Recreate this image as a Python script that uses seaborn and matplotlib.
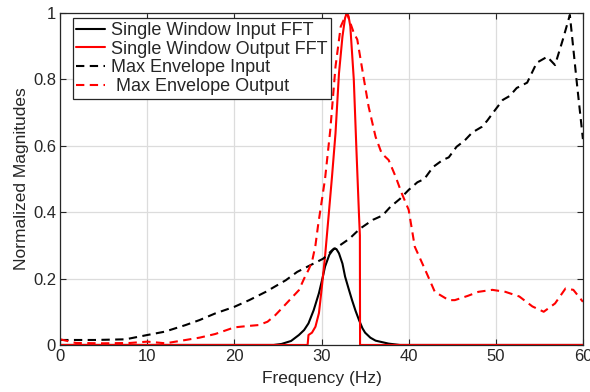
import numpy as np
import pandas as pd
import seaborn as sns
import matplotlib.pyplot as plt

# single window input FFT (black solid)
in_fft_x = [0, 24.5, 25.4, 26.5, 27.4, 28.0, 28.5, 29.1, 29.7, 30.1, 30.4, 30.9, 31.4, 31.7, 32.0, 32.4,
            32.7, 33.1, 33.5, 33.9, 34.3, 34.7, 35.0, 35.6, 36.2, 37.7, 39.0, 60]
in_fft_y = [0, 0, 0.003, 0.012, 0.03, 0.045, 0.065, 0.105, 0.156, 0.2, 0.236, 0.272, 0.29, 0.289, 0.276,
            0.245, 0.206, 0.17, 0.135, 0.103, 0.075, 0.05, 0.037, 0.022, 0.013, 0.004, 0, 0]

# single window output FFT (red solid)
out_fft_x = [0, 28.4, 28.5, 28.9, 29.3, 29.7, 30.0, 30.4, 30.8, 31.2, 31.6, 32.0, 32.4, 32.7, 32.9, 33.1,
             33.3, 33.7, 34.0, 34.3, 34.4, 34.42, 60]
out_fft_y = [0, 0, 0.03, 0.037, 0.055, 0.096, 0.166, 0.266, 0.386, 0.507, 0.637, 0.818, 0.929, 0.985, 1.0,
             0.99, 0.96, 0.8, 0.59, 0.39, 0.33, 0, 0]

# max envelope input (black dashed)
env_in_x = [0, 4, 7.5, 10, 12, 14.4, 16, 17.8, 20, 21.7, 23.6, 25.9, 27.2, 28.7, 30.2, 31.2, 32.1, 33.2,
            34.4, 35.9, 37.0, 37.9, 39.0, 40.0, 41.0, 41.8, 42.8, 43.9, 44.6, 45.5, 46.4, 47.3, 48.4, 49.0,
            49.7, 50.8, 51.6, 52.4, 53.6, 54.7, 55.9, 56.8, 57.7, 58.5, 59.3, 60]
env_in_y = [0.015, 0.015, 0.017, 0.03, 0.04, 0.06, 0.075, 0.095, 0.115, 0.135, 0.16, 0.195, 0.22, 0.24,
            0.26, 0.285, 0.30, 0.32, 0.35, 0.377, 0.39, 0.416, 0.44, 0.467, 0.49, 0.50, 0.536, 0.557, 0.565,
            0.597, 0.615, 0.64, 0.657, 0.675, 0.70, 0.738, 0.75, 0.774, 0.79, 0.85, 0.868, 0.843, 0.92, 0.994,
            0.79, 0.62]

# max envelope output (red dashed)
env_out_x = [0, 1.8, 5, 8, 10, 12.1, 14.4, 16, 17.8, 20, 21.5, 22.8, 23.8, 24.7, 25.5, 26.5, 27.4, 28.0,
             28.5, 28.9, 29.3, 29.6, 30.0, 30.4, 31.0, 31.6, 32.2, 32.9, 33.3, 33.7, 34.1, 34.8, 35.4, 36.2,
             36.9, 37.7, 38.5, 39.2, 40.0, 40.7, 41.9, 43.0, 44.6, 45.3, 46.8, 48.0, 49.6, 51.1, 52.7, 54.2,
             55.5, 56.8, 58.0, 58.9, 60]
env_out_y = [0.017, 0.006, 0.005, 0.006, 0.01, 0.005, 0.015, 0.022, 0.033, 0.053, 0.057, 0.06, 0.07, 0.09,
             0.112, 0.14, 0.165, 0.2, 0.226, 0.25, 0.30, 0.36, 0.43, 0.50, 0.647, 0.838, 0.959, 1.0, 0.97,
             0.94, 0.92, 0.81, 0.718, 0.627, 0.577, 0.557, 0.507, 0.457, 0.407, 0.296, 0.226, 0.16, 0.135,
             0.135, 0.148, 0.16, 0.166, 0.16, 0.146, 0.116, 0.10, 0.125, 0.17, 0.166, 0.13]

labels = ['Single Window Input FFT', 'Single Window Output FFT', 'Max Envelope Input', ' Max Envelope Output']
x_ticks = [0, 10, 20, 30, 40, 50, 60]
y_ticks = [0, 0.2, 0.4, 0.6, 0.8, 1.0]
y_ticklabels = ['0', '0.2', '0.4', '0.6', '0.8', '1']

sns.set_style('whitegrid')
plt.rcParams['font.family'] = ['Liberation Sans', 'DejaVu Sans']

fig = plt.figure(figsize=(5.9, 3.92), dpi=100)
ax = fig.add_axes([0.102, 0.12, 0.886, 0.847])

dash = (0, (4, 2.6))
sns.lineplot(x=in_fft_x, y=in_fft_y, ax=ax, color='black', lw=1.5, sort=False, estimator=None, label=labels[0])
sns.lineplot(x=out_fft_x, y=out_fft_y, ax=ax, color='red', lw=1.5, sort=False, estimator=None, label=labels[1])
sns.lineplot(x=env_in_x, y=env_in_y, ax=ax, color='black', lw=1.5, sort=False, estimator=None,
             linestyle=dash, label=labels[2])
sns.lineplot(x=env_out_x, y=env_out_y, ax=ax, color='red', lw=1.5, sort=False, estimator=None,
             linestyle=dash, label=labels[3])

ax.set_xlim(0, 60)
ax.set_ylim(0, 1)
ax.set_xticks(x_ticks)
ax.set_yticks(y_ticks)
ax.set_yticklabels(y_ticklabels)
ax.set_xlabel('Frequency (Hz)', fontsize=12.5, color='#262626', labelpad=5)
ax.set_ylabel('Normalized Magnitudes', fontsize=12.5, color='#262626', labelpad=3)
ax.tick_params(direction='in', length=4, width=0.8, colors='#262626', labelsize=12,
               top=True, right=True, bottom=True, left=True, pad=3)
ax.grid(True, color='#dcdcdc', lw=0.9)
for s in ax.spines.values():
    s.set_color('#262626')
    s.set_linewidth(0.9)

leg = ax.legend(loc='upper left', bbox_to_anchor=(0.024, 0.984), fontsize=13, frameon=True, fancybox=False,
                edgecolor='#262626', framealpha=1, handlelength=1.6, handletextpad=0.3, labelspacing=0.1,
                borderpad=0.2, borderaxespad=0)
leg.get_frame().set_linewidth(0.9)

fig.savefig('out.png', dpi=100)
